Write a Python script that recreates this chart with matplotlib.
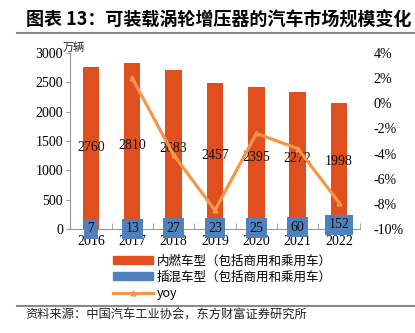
import matplotlib.pyplot as plt
from matplotlib.patches import Patch
from matplotlib.lines import Line2D

# 数据（万辆）
years = ['2016', '2017', '2018', '2019', '2020', '2021', '2022']
ice = [2760, 2810, 2683, 2457, 2395, 2272, 1998]
phev = [7, 13, 27, 23, 25, 60, 152]
yoy = [None, 2.0, -4.1, -8.5, -2.4, -3.6, -7.9]

orange = '#E0501E'
blue = '#4F81BD'
line_c = '#F79646'
num_font = ['Liberation Serif', 'Noto Sans CJK SC']
cjk_font = ['Noto Sans CJK SC', 'DejaVu Sans']

fig = plt.figure(figsize=(4.15, 3.33), dpi=100)
ax = fig.add_axes([0.169, 0.312, 0.698, 0.529])
x = list(range(len(years)))

ax.bar(x, phev, width=0.4, color=blue, zorder=2)
ax.bar(x, ice, width=0.4, bottom=phev, color=orange, zorder=2)

for i in x:
    ax.text(i, phev[i] + ice[i] / 2, str(ice[i]), ha='center', va='center',
            fontsize=10, family=num_font, color='#111111', zorder=4)
    ax.text(i, phev[i] / 2, str(phev[i]), ha='center', va='center',
            fontsize=10, family=num_font, color='#111111', zorder=4,
            bbox=dict(boxstyle='square,pad=0.25', fc=blue, ec='none'))

ax.set_xlim(-0.5, len(years) - 0.5)
ax.set_ylim(0, 3000)
ax.set_yticks(range(0, 3001, 500))
ax.set_xticks(x)
ax.set_xticklabels(years)
ax.set_xticks([i + 0.5 for i in x], minor=True)
for lab in ax.get_xticklabels() + ax.get_yticklabels():
    lab.set_family(num_font)
    lab.set_fontsize(10)
ax.tick_params(axis='x', which='major', length=0, pad=4)
ax.tick_params(axis='x', which='minor', length=4, direction='in', color='#999999')
ax.tick_params(axis='y', length=3, direction='out', color='#999999', pad=2)
for s in ['top', 'right']:
    ax.spines[s].set_visible(False)
ax.spines['left'].set_color('#999999')
ax.spines['bottom'].set_color('#999999')

ax2 = ax.twinx()
yx = [i for i in x if yoy[i] is not None]
yv = [yoy[i] for i in yx]
ax2.plot(yx, yv, color=line_c, lw=2.3, marker='^', ms=3.5, zorder=3)
ax2.set_ylim(-10, 4)
ax2.set_yticks(range(-10, 5, 2))
ax2.set_yticklabels([f'{v}%' for v in range(-10, 5, 2)])
for lab in ax2.get_yticklabels():
    lab.set_family(num_font)
    lab.set_fontsize(10)
ax2.tick_params(axis='y', length=0, pad=10)
for s in ['top', 'right', 'left', 'bottom']:
    ax2.spines[s].set_visible(False)

ax.text(-0.025, 1.0, '万辆', transform=ax.transAxes, fontsize=8,
        family=cjk_font, ha='left', va='bottom', color='#222222')

# 标题与分隔线
fig.text(0.062, 0.941, '图表 13：可装载涡轮增压器的汽车市场规模变化',
         fontsize=13, fontweight='bold', family=cjk_font, ha='left', va='center')
fig.add_artist(Line2D([0.042, 1.0], [0.9, 0.9], color='#888888', lw=1.5))
fig.add_artist(Line2D([0.042, 1.0], [0.081, 0.081], color='#888888', lw=1.5))
fig.text(0.062, 0.055, '资料来源：中国汽车工业协会，东方财富证券研究所',
         fontsize=8.8, family=cjk_font, ha='left', va='center', color='#222222')

handles = [Patch(color=orange), Patch(color=blue),
           Line2D([], [], color=line_c, lw=2.3, marker='^', ms=3.5)]
labels = ['内燃车型（包括商用和乘用车）', '插混车型（包括商用和乘用车）', 'yoy']
fig.legend(handles, labels, loc='upper left', bbox_to_anchor=(0.272, 0.235),
           frameon=False, prop={'family': cjk_font, 'size': 9},
           handlelength=3.2, handleheight=0.6, labelspacing=0.25,
           handletextpad=0.3, borderaxespad=0, borderpad=0)

fig.savefig('out.png', dpi=100)
